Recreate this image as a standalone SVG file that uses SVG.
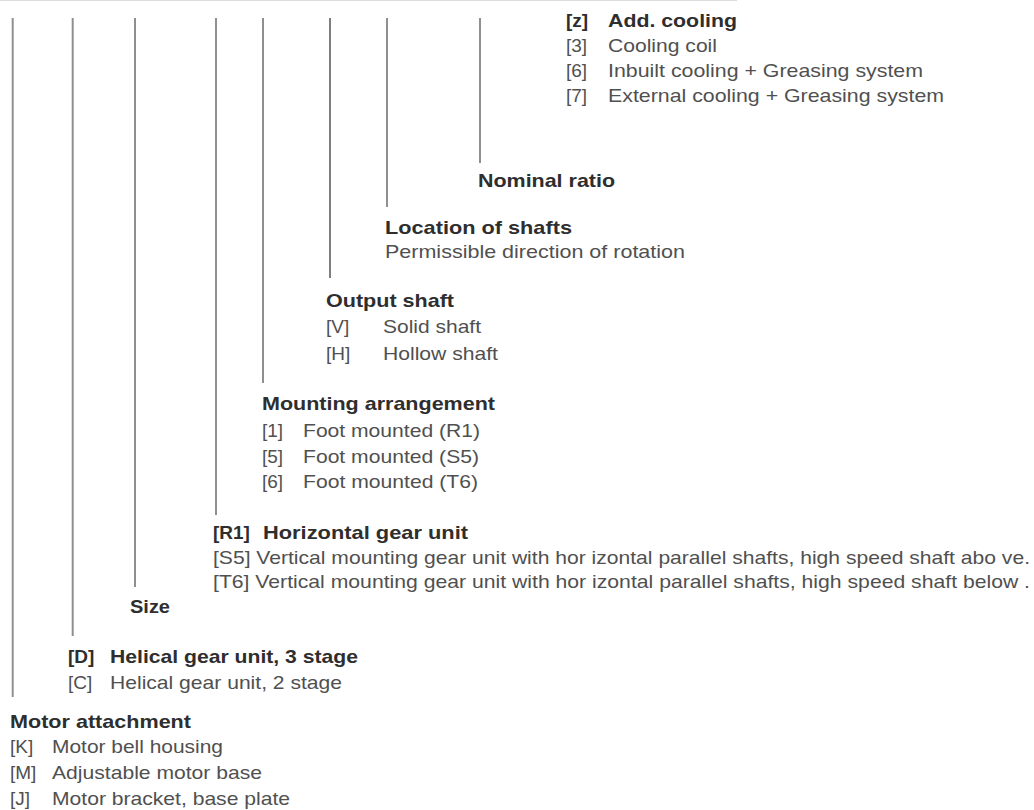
<svg xmlns="http://www.w3.org/2000/svg" width="1034" height="810" viewBox="0 0 1034 810">
<style>
text{font-family:"Liberation Sans",Arial,sans-serif;font-size:19px;fill:#505050}
.b{font-weight:bold;fill:#2e2e2e}
.ln{stroke:#8f8f8f;stroke-width:2;fill:none}
.dk{stroke:#3a3a3a;stroke-width:1.3;fill:none}
</style>
<rect width="1034" height="810" fill="#ffffff"/>
<line x1="0" y1="0.5" x2="737" y2="0.5" stroke="#dcdcdc" stroke-width="1"/>
<g id="connectors">
<line class="ln" x1="12.7" y1="18" x2="12.7" y2="697"/>
<line class="ln" x1="72.7" y1="18" x2="72.7" y2="636"/>
<line class="ln" x1="135" y1="18" x2="135" y2="587"/>
<line class="ln" x1="216" y1="18" x2="216" y2="515"/>
<line class="ln" x1="263" y1="18" x2="263" y2="383"/>
<line class="dk" x1="330" y1="18" x2="330" y2="278"/>
<line class="ln" x1="387" y1="18" x2="387" y2="207"/>
<line class="ln" x1="480" y1="18" x2="480" y2="163"/>
</g>
<g id="cooling">
<text class="b" x="566" y="27">[z]</text>
<text class="b" x="608" y="27" textLength="129" lengthAdjust="spacingAndGlyphs">Add. cooling</text>
<text x="566" y="52">[3]</text>
<text x="608" y="52" textLength="109" lengthAdjust="spacingAndGlyphs">Cooling coil</text>
<text x="566" y="77">[6]</text>
<text x="608" y="77" textLength="315" lengthAdjust="spacingAndGlyphs">Inbuilt cooling + Greasing system</text>
<text x="566" y="102">[7]</text>
<text x="608" y="102" textLength="336" lengthAdjust="spacingAndGlyphs">External cooling + Greasing system</text>
</g>
<g id="ratio">
<text class="b" x="478" y="187" textLength="137" lengthAdjust="spacingAndGlyphs">Nominal ratio</text>
</g>
<g id="shafts">
<text class="b" x="385" y="234" textLength="187" lengthAdjust="spacingAndGlyphs">Location of shafts</text>
<text x="385" y="258" textLength="300" lengthAdjust="spacingAndGlyphs">Permissible direction of rotation</text>
</g>
<g id="output">
<text class="b" x="326" y="307" textLength="128" lengthAdjust="spacingAndGlyphs">Output shaft</text>
<text x="326" y="333">[V]</text>
<text x="383" y="333" textLength="98" lengthAdjust="spacingAndGlyphs">Solid shaft</text>
<text x="326" y="360">[H]</text>
<text x="383" y="360" textLength="115" lengthAdjust="spacingAndGlyphs">Hollow shaft</text>
</g>
<g id="mounting">
<text class="b" x="262" y="410" textLength="233" lengthAdjust="spacingAndGlyphs">Mounting arrangement</text>
<text x="262" y="437">[1]</text>
<text x="303" y="437" textLength="177" lengthAdjust="spacingAndGlyphs">Foot mounted (R1)</text>
<text x="262" y="463">[5]</text>
<text x="303" y="463" textLength="176" lengthAdjust="spacingAndGlyphs">Foot mounted (S5)</text>
<text x="262" y="488">[6]</text>
<text x="303" y="488" textLength="175" lengthAdjust="spacingAndGlyphs">Foot mounted (T6)</text>
</g>
<g id="unit">
<text class="b" x="213" y="539">[R1]</text>
<text class="b" x="263" y="539" textLength="205" lengthAdjust="spacingAndGlyphs">Horizontal gear unit</text>
<text x="213" y="564" textLength="817" lengthAdjust="spacingAndGlyphs">[S5] Vertical mounting gear unit with hor izontal parallel shafts, high speed shaft abo ve.</text>
<text x="213" y="588" textLength="817" lengthAdjust="spacingAndGlyphs">[T6] Vertical mounting gear unit with hor izontal parallel shafts, high speed shaft below .</text>
</g>
<g id="size">
<text class="b" x="130" y="613" textLength="40" lengthAdjust="spacingAndGlyphs">Size</text>
</g>
<g id="type">
<text class="b" x="68" y="663">[D]</text>
<text class="b" x="110" y="663" textLength="248" lengthAdjust="spacingAndGlyphs">Helical gear unit, 3 stage</text>
<text x="68" y="689">[C]</text>
<text x="110" y="689" textLength="232" lengthAdjust="spacingAndGlyphs">Helical gear unit, 2 stage</text>
</g>
<g id="motor">
<text class="b" x="10" y="728" textLength="181" lengthAdjust="spacingAndGlyphs">Motor attachment</text>
<text x="10" y="753">[K]</text>
<text x="52" y="753" textLength="171" lengthAdjust="spacingAndGlyphs">Motor bell housing</text>
<text x="10" y="779">[M]</text>
<text x="52" y="779" textLength="210" lengthAdjust="spacingAndGlyphs">Adjustable motor base</text>
<text x="10" y="805">[J]</text>
<text x="52" y="805" textLength="238" lengthAdjust="spacingAndGlyphs">Motor bracket, base plate</text>
</g>
</svg>
